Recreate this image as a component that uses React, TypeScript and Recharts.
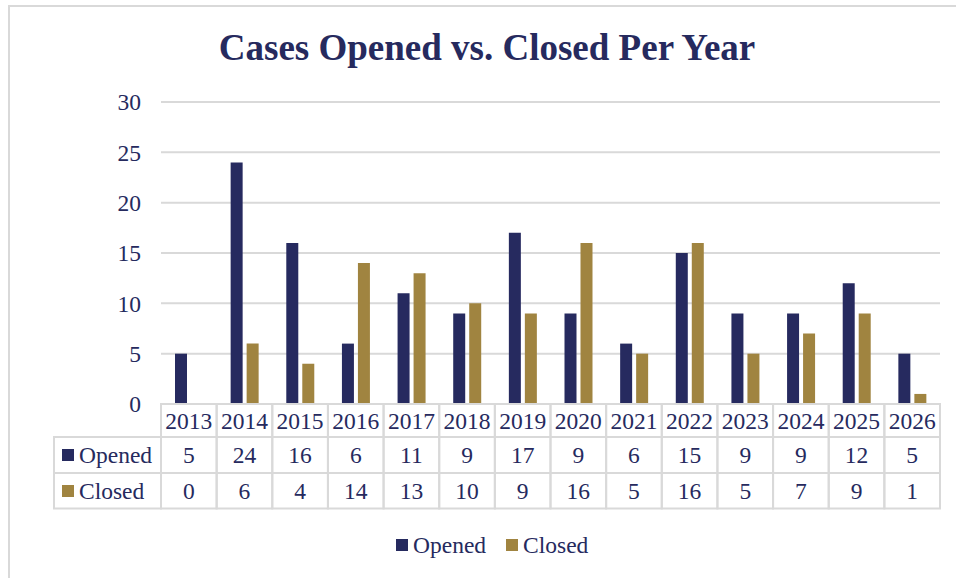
import React from 'react';
import { BarChart, Bar, XAxis, YAxis, CartesianGrid } from 'recharts';

const YEARS = ['2013', '2014', '2015', '2016', '2017', '2018', '2019', '2020', '2021', '2022', '2023', '2024', '2025', '2026'];
const OPENED = [5, 24, 16, 6, 11, 9, 17, 9, 6, 15, 9, 9, 12, 5];
const CLOSED = [0, 6, 4, 14, 13, 10, 9, 16, 5, 16, 5, 7, 9, 1];
const Y_TICKS = [0, 5, 10, 15, 20, 25, 30];
const SERIES = [
    { key: 'opened', name: 'Opened', color: '#262A5F', values: OPENED },
    { key: 'closed', name: 'Closed', color: '#A08440' },
];
SERIES[1] = { ...SERIES[1], values: CLOSED };

const data = YEARS.map((year, i) => ({ year, opened: OPENED[i], closed: CLOSED[i] }));

const W = 956;
const H = 578;
const PLOT_LEFT = 161;
const PLOT_RIGHT = 940;
const PLOT_TOP = 102;
const PLOT_BOTTOM = 404;
const TABLE_H = 105;
const BAND = (PLOT_RIGHT - PLOT_LEFT) / YEARS.length;
const ROWS = [404, 437, 473, 508.5];
const LEFT_COL = 54;

const TEXT = '#262A5E';
const LINE = '#D9D9D9';
const FONT = '"Liberation Serif", "Times New Roman", serif';
const FS = 23.5;

function TableTick({ x, index }: any) {
    const cx = x;
    const x0 = cx - BAND / 2;
    return (
        <g>
            {index === 0 && SERIES.map((s, r) => (
                <g key={s.key}>
                    <rect x={LEFT_COL} y={ROWS[r + 1]} width={x0 - LEFT_COL} height={ROWS[r + 2] - ROWS[r + 1]}
                        fill="none" stroke={LINE} strokeWidth={2} />
                    <rect x={62} y={ROWS[r + 1] + 12} width={12} height={12} fill={s.color} />
                    <text x={79} y={ROWS[r + 2] - 10} fontSize={FS} fontFamily={FONT} fill={TEXT}>{s.name}</text>
                </g>
            ))}
            <rect x={x0} y={ROWS[0]} width={BAND} height={ROWS[3] - ROWS[0]} fill="none" stroke={LINE} strokeWidth={2} />
            <line x1={x0} x2={x0 + BAND} y1={ROWS[1]} y2={ROWS[1]} stroke={LINE} strokeWidth={2} />
            <line x1={x0} x2={x0 + BAND} y1={ROWS[2]} y2={ROWS[2]} stroke={LINE} strokeWidth={2} />
            <text x={cx} y={ROWS[1] - 8} textAnchor="middle" fontSize={FS} fontFamily={FONT} fill={TEXT}>{YEARS[index]}</text>
            <text x={cx} y={ROWS[2] - 10} textAnchor="middle" fontSize={FS} fontFamily={FONT} fill={TEXT}>{OPENED[index]}</text>
            <text x={cx} y={ROWS[3] - 10} textAnchor="middle" fontSize={FS} fontFamily={FONT} fill={TEXT}>{CLOSED[index]}</text>
        </g>
    );
}

export default function App() {
    return (
        <div style={{ position: 'fixed', left: 0, top: 0, width: W, height: H, background: '#fff', overflow: 'hidden' }}>
            <div style={{
                position: 'absolute', left: 8, top: 5, width: W + 20, height: H + 20,
                borderLeft: `2px solid ${LINE}`, borderTop: `2px solid ${LINE}`,
            }} />
            <div style={{
                position: 'absolute', left: 0, top: 29, width: 974, textAlign: 'center',
                fontFamily: FONT, fontWeight: 700, fontSize: 37, lineHeight: '37px', color: TEXT,
            }}>
                Cases Opened vs. Closed Per Year
            </div>
            <div style={{ position: 'absolute', left: 0, top: 0 }}>
                <BarChart
                    width={W}
                    height={H}
                    data={data}
                    margin={{ top: PLOT_TOP, right: W - PLOT_RIGHT, left: 0, bottom: H - PLOT_BOTTOM - TABLE_H }}
                    barSize={12}
                    barGap={4}
                >
                    <CartesianGrid horizontal vertical={false} stroke={LINE} strokeWidth={2} />
                    <XAxis
                        dataKey="year"
                        height={TABLE_H}
                        axisLine={{ stroke: LINE, strokeWidth: 2 }}
                        tickLine={false}
                        tickSize={0}
                        tickMargin={0}
                        interval={0}
                        tick={(props: any) => <TableTick {...props} />}
                    />
                    <YAxis
                        width={PLOT_LEFT}
                        domain={[0, 30]}
                        ticks={Y_TICKS}
                        axisLine={false}
                        tickLine={false}
                        tickSize={0}
                        tickMargin={20}
                        tick={{ fontSize: FS, fontFamily: FONT, fill: TEXT }}
                    />
                    {SERIES.map(s => (
                        <Bar key={s.key} dataKey={s.key} name={s.name} fill={s.color} isAnimationActive={false} />
                    ))}
                </BarChart>
            </div>
            <div style={{
                position: 'absolute', left: 396, top: 530, display: 'flex', alignItems: 'center',
                fontFamily: FONT, fontSize: FS, color: TEXT, lineHeight: '30px',
            }}>
                {SERIES.map((s, i) => (
                    <div key={s.key} style={{ display: 'flex', alignItems: 'center', marginRight: i === 0 ? 20 : 0 }}>
                        <span style={{ display: 'inline-block', width: 12, height: 12, background: s.color, marginRight: 5 }} />
                        <span>{s.name}</span>
                    </div>
                ))}
            </div>
        </div>
    );
}
